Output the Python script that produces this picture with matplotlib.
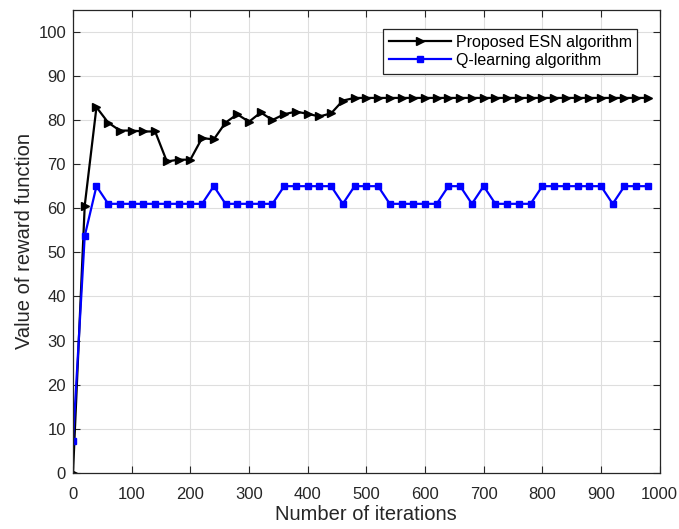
import numpy as np
import matplotlib

matplotlib.use('Agg')
import matplotlib.pyplot as plt

plt.rcParams['font.family'] = ['Liberation Sans', 'DejaVu Sans']

iterations = np.arange(0, 1000, 20)

esn_reward = [0, 60.6, 82.9, 79.4, 77.6, 77.6, 77.4, 77.4, 70.6, 71.0,
              71.0, 75.9, 75.6, 79.4, 81.3, 79.6, 81.7, 80.0, 81.3, 81.9,
              81.4, 80.8, 81.5, 84.4, 85, 85, 85, 85, 85, 85,
              85, 85, 85, 85, 85, 85, 85, 85, 85, 85,
              85, 85, 85, 85, 85, 85, 85, 85, 85, 85]

q_reward = [7.3, 53.7, 65, 61, 61, 61, 61, 61, 61, 61,
            61, 61, 65, 61, 61, 61, 61, 61, 65, 65,
            65, 65, 65, 61, 65, 65, 65, 61, 61, 61,
            61, 61, 65, 65, 61, 65, 61, 61, 61, 61,
            65, 65, 65, 65, 65, 65, 61, 65, 65, 65]

x_ticks = np.arange(0, 1001, 100)
y_ticks = np.arange(0, 101, 10)

fig = plt.figure(figsize=(6.79, 5.29), dpi=100)
ax = fig.add_axes([0.1075, 0.1059, 0.864, 0.8758])

ax.plot(iterations, esn_reward, color='black', marker='>', markersize=6,
        linewidth=1.6, label='Proposed ESN algorithm')
ax.plot(iterations, q_reward, color='blue', marker='s', markersize=4.5,
        linewidth=1.6, label='Q-learning algorithm')

ax.set_xlim(0, 1000)
ax.set_ylim(0, 105)
ax.set_xticks(x_ticks)
ax.set_yticks(y_ticks)
ax.tick_params(direction='in', top=True, right=True, labelsize=12,
               length=5, width=0.8, colors='#262626')
ax.tick_params(axis='x', pad=10)
ax.tick_params(axis='y', pad=5)
ax.grid(True, color='#dedede', linewidth=0.8)
ax.set_axisbelow(True)
for s in ax.spines.values():
    s.set_color('#262626')
    s.set_linewidth(0.9)

ax.set_xlabel('Number of iterations', fontsize=14.5, color='#262626', labelpad=2)
ax.set_ylabel('Value of reward function', fontsize=14.5, color='#262626', labelpad=3)

leg = ax.legend(loc='upper right', bbox_to_anchor=(0.962, 0.958),
                fontsize=11.5, fancybox=False, framealpha=1,
                edgecolor='#262626', borderaxespad=0, handlelength=3.9,
                borderpad=0.35, labelspacing=0.2, handletextpad=0.3)
leg.get_frame().set_linewidth(0.9)

fig.savefig('out.png', dpi=100)
